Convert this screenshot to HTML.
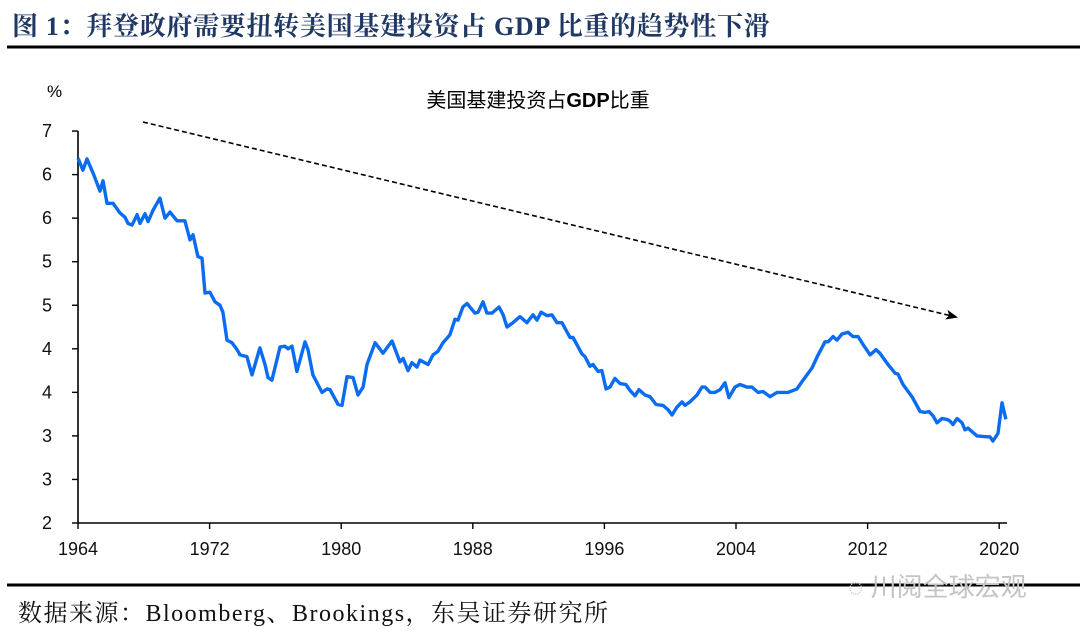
<!DOCTYPE html>
<html><head><meta charset="utf-8"><style>
html,body{margin:0;padding:0;background:#fff;}
body{width:1080px;height:632px;position:relative;overflow:hidden;}
#hdr{position:absolute;left:12px;top:6px;font-family:"Liberation Serif","Noto Serif CJK SC",serif;font-weight:bold;font-size:26px;color:#1f3864;letter-spacing:0.7px;white-space:nowrap;}
#src{position:absolute;left:18px;top:593px;font-family:"Liberation Serif","Noto Serif CJK SC",serif;font-size:24px;letter-spacing:1.5px;color:#111;white-space:nowrap;}
#wm{position:absolute;left:848px;top:567px;font-family:"Liberation Sans","Noto Sans CJK SC",sans-serif;font-size:26px;color:#c4c4c4;white-space:nowrap;}
</style></head><body>
<div id="hdr">图 1：拜登政府需要扭转美国基建投资占 GDP 比重的趋势性下滑</div>
<svg id="chart" width="1080" height="632" style="position:absolute;left:0;top:0">
<line x1="7" y1="47" x2="1080" y2="47" stroke="#000" stroke-width="3"/>
<line x1="7" y1="585" x2="1080" y2="585" stroke="#000" stroke-width="3"/>
<text x="47" y="97" font-family="Liberation Sans,sans-serif" font-size="17">%</text>
<text x="538" y="107" text-anchor="middle" font-family="Liberation Sans,Noto Sans CJK SC,sans-serif" font-size="20">美国基建投资占<tspan font-weight="bold">GDP</tspan>比重</text>
<g id="axes"></g>
<g id="series"></g>
<defs><marker id="ah" markerWidth="12" markerHeight="10" refX="10" refY="5" orient="auto" markerUnits="userSpaceOnUse"><path d="M0,0 L12,5 L0,10 L3,5 Z" fill="#000"/></marker></defs>
<line x1="143" y1="122" x2="956" y2="317" stroke="#000" stroke-width="1.6" stroke-dasharray="5,3" marker-end="url(#ah)"/>
</svg>
<div id="wm">◌ 川阅全球宏观</div>
<div id="src">数据来源：Bloomberg、Brookings，东吴证券研究所</div>
<script>
const yTickValues=[7,6.5,6,5.5,5,4.5,4,3.5,3,2.5];
const yTickLabels=["7","6","6","5","5","4","4","3","3","2"];
const xTickYears=[1964,1972,1980,1988,1996,2004,2012,2020];
const years=[1964.00,1964.30,1964.55,1964.91,1965.34,1965.52,1965.76,1966.13,1966.55,1966.86,1967.04,1967.28,1967.59,1967.77,1968.07,1968.26,1968.56,1968.98,1969.29,1969.59,1970.02,1970.50,1970.81,1970.99,1971.29,1971.54,1971.72,1972.02,1972.33,1972.63,1972.81,1973.06,1973.36,1973.67,1973.85,1974.27,1974.58,1975.06,1975.37,1975.55,1975.79,1976.28,1976.58,1976.77,1977.01,1977.31,1977.80,1977.98,1978.28,1978.83,1979.14,1979.32,1979.81,1980.05,1980.35,1980.72,1981.02,1981.33,1981.57,1982.06,1982.54,1983.09,1983.57,1983.76,1984.06,1984.30,1984.61,1984.79,1985.28,1985.58,1985.88,1986.19,1986.61,1986.92,1987.10,1987.40,1987.65,1988.13,1988.32,1988.62,1988.86,1989.17,1989.59,1989.84,1990.08,1990.44,1990.87,1991.29,1991.66,1991.90,1992.15,1992.51,1992.81,1993.12,1993.42,1993.91,1994.09,1994.64,1994.82,1995.12,1995.31,1995.61,1995.85,1996.10,1996.34,1996.64,1996.95,1997.31,1997.56,1997.86,1998.10,1998.47,1998.77,1999.14,1999.56,1999.87,2000.11,2000.41,2000.72,2000.90,2001.20,2001.63,2001.93,2002.12,2002.42,2002.72,2003.03,2003.33,2003.57,2003.94,2004.24,2004.67,2004.97,2005.34,2005.64,2006.07,2006.49,2006.86,2007.16,2007.71,2008.07,2008.62,2008.99,2009.41,2009.59,2009.90,2010.14,2010.44,2010.81,2011.11,2011.42,2011.72,2012.15,2012.51,2012.75,2013.24,2013.67,2013.85,2014.15,2014.70,2015.19,2015.49,2015.73,2015.98,2016.22,2016.52,2016.83,2017.01,2017.19,2017.44,2017.74,2017.92,2018.10,2018.65,2019.26,2019.44,2019.62,2019.93,2020.17,2020.41];
const values=[6.69,6.55,6.68,6.52,6.31,6.43,6.17,6.17,6.06,6.01,5.94,5.92,6.04,5.94,6.05,5.96,6.09,6.23,6.00,6.07,5.97,5.97,5.75,5.81,5.56,5.54,5.14,5.15,5.04,5.00,4.92,4.60,4.57,4.49,4.43,4.41,4.20,4.51,4.32,4.17,4.14,4.52,4.53,4.50,4.53,4.24,4.58,4.49,4.20,4.00,4.04,4.03,3.86,3.85,4.18,4.17,3.97,4.06,4.32,4.57,4.45,4.59,4.35,4.39,4.25,4.34,4.29,4.37,4.32,4.43,4.47,4.57,4.66,4.84,4.83,4.98,5.02,4.91,4.92,5.04,4.91,4.91,4.98,4.89,4.75,4.80,4.87,4.80,4.89,4.83,4.92,4.88,4.89,4.80,4.80,4.63,4.63,4.44,4.41,4.30,4.32,4.24,4.25,4.04,4.06,4.16,4.10,4.09,4.02,3.96,4.03,3.97,3.95,3.86,3.85,3.80,3.74,3.83,3.89,3.85,3.89,3.97,4.06,4.06,4.00,4.00,4.03,4.11,3.94,4.06,4.09,4.06,4.06,4.00,4.01,3.95,4.00,4.00,4.00,4.04,4.14,4.28,4.43,4.58,4.58,4.64,4.60,4.67,4.69,4.64,4.64,4.55,4.43,4.49,4.45,4.32,4.22,4.21,4.09,3.95,3.78,3.77,3.78,3.73,3.65,3.70,3.69,3.67,3.63,3.70,3.65,3.57,3.59,3.50,3.49,3.49,3.44,3.53,3.88,3.69];
const NS='http://www.w3.org/2000/svg';
function xs(yr){return 78+(yr-1964)*16.45;}
function ys(v){return 523-(v-2.5)*87.1;}
const axes=document.getElementById('axes');
function mk(tag,attrs,parent){const e=document.createElementNS(NS,tag);for(const k in attrs)e.setAttribute(k,attrs[k]);parent.appendChild(e);return e;}
const yAxis=mk('line',{x1:78,y1:ys(7),x2:78,y2:523,stroke:'#000','stroke-width':1.6},axes);


const xAxis=mk('line',{x1:78,y1:523,x2:1007,y2:523,stroke:'#000','stroke-width':1.6},axes);


yTickValues.forEach((v,i)=>{
  const t=mk('line',{x1:72,y1:ys(v),x2:78,y2:ys(v),stroke:'#000','stroke-width':1.4},axes);
  
  
  const l=mk('text',{x:52,y:ys(v)+6,'text-anchor':'end','font-family':'Liberation Sans,sans-serif','font-size':18,fill:'#111'},axes);
  l.textContent=yTickLabels[i];
  
  
});
xTickYears.forEach(yr=>{
  const t=mk('line',{x1:xs(yr),y1:523,x2:xs(yr),y2:529,stroke:'#000','stroke-width':1.4},axes);
  
  
  const l=mk('text',{x:xs(yr),y:555,'text-anchor':'middle','font-family':'Liberation Sans,sans-serif','font-size':18,fill:'#111'},axes);
  l.textContent=String(yr);
  
  
});
const d=years.map((yr,i)=>(i?'L':'M')+xs(yr).toFixed(1)+','+ys(values[i]).toFixed(1)).join(' ');
const p=mk('path',{d:d,fill:'none',stroke:'#0a6cf0','stroke-width':3.4,'stroke-linejoin':'round'},document.getElementById('series'));


</script>
</body></html>
